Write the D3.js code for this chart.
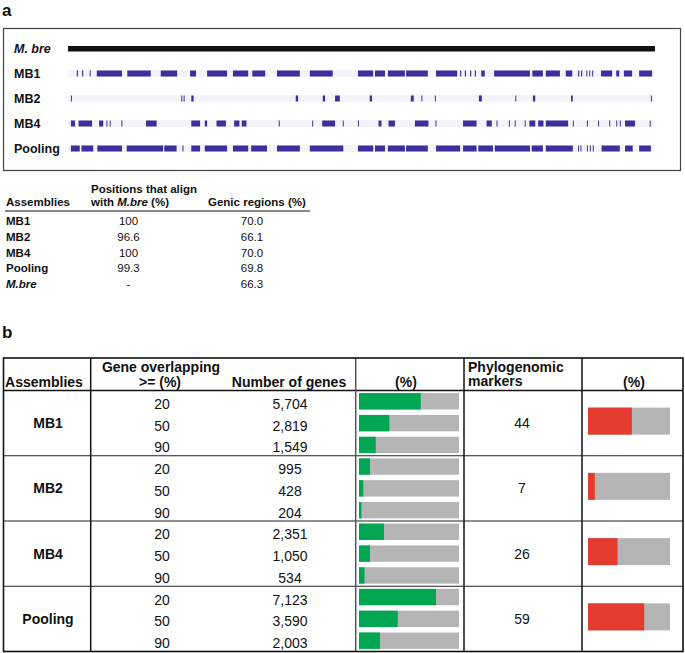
<!DOCTYPE html>
<html>
<head>
<meta charset="utf-8">
<script src="https://cdn.jsdelivr.net/npm/d3@7"></script>
<style>
  body { margin: 0; background: #fff; }
  text { font-family: "Liberation Sans", Arial, sans-serif; fill: #111; }
</style>
</head>
<body>
<div id="chart"></div>
<script>
// panel a: alignment of the assemblies on M. bre (positions in % of genome)
const trackNames = ["M. bre", "MB1", "MB2", "MB4", "Pooling"];
const mb1Segments = [[1.5,1.7],[2.4,2.6],[3.7,3.85],[4.9,9.2],[10.1,14.1],[15.8,18.6],[20.8,21.8],[23.7,27.1],[28.1,30.7],[31.4,33.6],[35.6,39.5],[41.2,45.1],[49.4,52.0],[52.3,54.0],[54.5,57.4],[57.6,61.3],[62.7,66.3],[66.8,67.0],[67.6,67.8],[68.5,68.7],[69.3,69.5],[70.4,71.0],[72.6,78.7],[79.1,80.9],[81.4,83.8],[84.8,85.9],[86.9,87.1],[87.4,87.6],[88.3,88.45],[88.8,88.95],[89.3,89.45],[90.8,92.7],[93.4,93.9],[94.7,96.1],[97.3,99.5]];
const mb2Segments = [[0.5,0.65],[19.3,19.45],[19.7,19.85],[21.0,21.4],[38.8,39.2],[43.4,43.8],[45.5,46.3],[51.4,51.8],[58.4,58.9],[60.2,60.35],[62.5,62.65],[70.0,70.5],[76.2,76.35],[79.2,79.6],[85.7,86.0],[99.3,99.45]];
const mb4Segments = [[0.5,1.2],[1.8,4.1],[5.3,6.0],[6.55,6.7],[7.1,7.25],[9.1,9.25],[13.3,15.1],[21.0,22.5],[23.3,23.7],[25.3,26.9],[28.3,29.2],[29.6,30.4],[35.9,36.05],[41.6,41.75],[43.3,45.5],[46.8,46.95],[49.4,49.55],[52.9,53.4],[54.6,55.7],[59.1,61.4],[62.6,62.75],[67.3,69.6],[71.3,72.2],[73.0,73.15],[75.1,75.25],[76.1,76.25],[77.8,77.95],[78.6,79.6],[80.1,81.0],[81.4,85.2],[86.0,86.15],[88.4,88.55],[90.3,90.45],[92.2,92.35],[93.4,93.55],[94.0,94.15],[94.9,96.6],[99.1,99.25]];
const poolingSegments = [[0.5,2.0],[2.3,4.3],[5.0,9.2],[10.0,16.2],[16.4,18.5],[19.5,19.65],[21.0,22.5],[23.3,27.1],[28.1,30.7],[31.2,33.9],[35.6,39.5],[41.2,46.9],[49.4,52.0],[52.3,54.0],[54.5,57.4],[57.6,61.3],[62.7,66.8],[67.3,69.6],[69.9,72.4],[72.7,78.7],[79.0,80.9],[81.4,86.0],[86.9,87.05],[87.3,87.45],[88.4,88.55],[88.9,89.05],[89.4,89.55],[90.9,94.0],[94.9,96.2],[97.3,99.3]];

// table under panel a
const tableAHeaders = ["Assemblies", "Positions that align", "with M.bre (%)", "Genic regions (%)"];
const tableANames = ["MB1", "MB2", "MB4", "Pooling", "M.bre"];
const alignPct = ["100", "96.6", "100", "99.3", "-"];
const genicPct = ["70.0", "66.1", "70.0", "69.8", "66.3"];

// panel b
const assembliesB = ["MB1", "MB2", "MB4", "Pooling"];
const overlapThresholds = [20, 50, 90];
const geneCounts = [[5704, 2819, 1549], [995, 428, 204], [2351, 1050, 534], [7123, 3590, 2003]];
const genePct = [[61.7, 30.3, 16.7], [11, 4.3, 2.4], [25, 11, 5.5], [77, 38.7, 21]];
const markerCounts = [44, 7, 26, 59];
const markerPct = [53.5, 8.3, 36, 68.5];

const W = 685, H = 653;
const segColor = "#3b2f9e", green = "#00a651", red = "#e33b2e", grey = "#b5b5b5";

const svg = d3.select("#chart").append("svg")
    .attr("width", W)
    .attr("height", H);

svg.append("rect").attr("width", W).attr("height", H).attr("fill", "#fff");

// ---------- panel a ----------
svg.append("text")
    .attr("x", 2).attr("y", 16)
    .attr("font-weight", "bold").style("font-size", "17px")
    .text("a");

svg.append("rect")
    .attr("x", 3.5).attr("y", 28.5)
    .attr("width", 677).attr("height", 142)
    .attr("fill", "none").attr("stroke", "#444").attr("stroke-width", 1.2);

let x = d3.scaleLinear().domain([0, 100]).range([68, 655]);
let yTrack = d3.scaleBand().domain(trackNames).range([36, 161]);

// track labels
svg.selectAll(".trackLabel")
    .data(trackNames)
    .enter().append("text")
    .attr("class", "trackLabel")
    .attr("x", 14)
    .attr("y", d => yTrack(d) + yTrack.bandwidth() / 2 + 4.5)
    .attr("font-weight", "bold")
    .style("font-size", "12.5px")
    .style("font-style", (d, i) => i === 0 ? "italic" : "normal")
    .text(d => d);

// reference genome bar
svg.append("rect")
    .attr("x", x(0))
    .attr("y", yTrack("M. bre") + yTrack.bandwidth() / 2 - 2.5)
    .attr("width", x(100) - x(0))
    .attr("height", 5.5)
    .attr("fill", "#111");

let tracks = [
    { name: "MB1", segs: mb1Segments },
    { name: "MB2", segs: mb2Segments },
    { name: "MB4", segs: mb4Segments },
    { name: "Pooling", segs: poolingSegments }
];

tracks.forEach(function(t) {
    let cy = yTrack(t.name) + yTrack.bandwidth() / 2;
    svg.append("rect")
        .attr("x", x(0)).attr("y", cy - 3.5)
        .attr("width", x(100) - x(0)).attr("height", 7)
        .attr("fill", "#f5f3f9");
    svg.selectAll(".seg-" + t.name)
        .data(t.segs)
        .enter().append("rect")
        .attr("class", "seg-" + t.name)
        .attr("x", d => x(d[0]))
        .attr("y", cy - 3)
        .attr("width", d => Math.max(1, x(d[1]) - x(d[0])))
        .attr("height", 6)
        .attr("fill", segColor);
});

// ---------- table a ----------
let colA = [6, 128.5, 252];
let rowA = d3.scalePoint().domain(tableANames).range([225, 288]);

svg.append("text").attr("x", 6).attr("y", 206)
    .attr("font-weight", "bold").style("font-size", "11.5px").text(tableAHeaders[0]);
svg.append("text").attr("x", 91).attr("y", 193)
    .attr("font-weight", "bold").style("font-size", "11.5px").text(tableAHeaders[1]);
let h2 = svg.append("text").attr("x", 91).attr("y", 206)
    .attr("font-weight", "bold").style("font-size", "11.5px");
h2.append("tspan").text("with ");
h2.append("tspan").style("font-style", "italic").text("M.bre");
h2.append("tspan").text(" (%)");
svg.append("text").attr("x", 208).attr("y", 206)
    .attr("font-weight", "bold").style("font-size", "11.5px").text(tableAHeaders[3]);

svg.append("line")
    .attr("x1", 5).attr("x2", 310)
    .attr("y1", 211).attr("y2", 211)
    .attr("stroke", "#111").attr("stroke-width", 1);

let rowsA = svg.selectAll(".rowA")
    .data(tableANames)
    .enter().append("g")
    .attr("class", "rowA")
    .attr("transform", d => "translate(0," + rowA(d) + ")");

rowsA.append("text")
    .attr("x", colA[0])
    .attr("font-weight", "bold")
    .style("font-size", "11.5px")
    .style("font-style", d => d === "M.bre" ? "italic" : "normal")
    .text(d => d);
rowsA.append("text")
    .attr("x", colA[1]).attr("text-anchor", "middle")
    .style("font-size", "11.5px")
    .text((d, i) => alignPct[i]);
rowsA.append("text")
    .attr("x", colA[2]).attr("text-anchor", "middle")
    .style("font-size", "11.5px")
    .text((d, i) => genicPct[i]);

// ---------- panel b ----------
svg.append("text")
    .attr("x", 2).attr("y", 338)
    .attr("font-weight", "bold").style("font-size", "17px")
    .text("b");

let tTop = 358, headBottom = 390.5, tBottom = 651.5, tLeft = 3.5, tRight = 683;
let colLines = [90.7, 355.7, 464, 582];

let yGroup = d3.scaleBand().domain(assembliesB).range([headBottom, tBottom]);
let yRow = d3.scaleBand().domain(overlapThresholds).range([0, yGroup.bandwidth()])
    .paddingInner(0.25).paddingOuter(0.12);
let xGreen = d3.scaleLinear().domain([0, 100]).range([359, 459]);
let xRed = d3.scaleLinear().domain([0, 100]).range([588, 670]);
let fmt = d3.format(",");

// headers
let hb = [
    { t: "Assemblies", x: 44, y: 386.5, a: "middle" },
    { t: "Gene overlapping", x: 161, y: 371.5, a: "middle" },
    { t: ">= (%)", x: 160, y: 386.5, a: "middle" },
    { t: "Number of genes", x: 289, y: 386.5, a: "middle" },
    { t: "(%)", x: 406, y: 386.5, a: "middle" },
    { t: "Phylogenomic", x: 468, y: 371.5, a: "start" },
    { t: "markers", x: 468, y: 386, a: "start" },
    { t: "(%)", x: 634, y: 386.5, a: "middle" }
];
svg.selectAll(".headB")
    .data(hb)
    .enter().append("text")
    .attr("class", "headB")
    .attr("x", d => d.x).attr("y", d => d.y)
    .attr("text-anchor", d => d.a)
    .attr("font-weight", "bold")
    .style("font-size", "14px")
    .text(d => d.t);

let groups = svg.selectAll(".groupB")
    .data(assembliesB)
    .enter().append("g")
    .attr("class", "groupB")
    .attr("transform", d => "translate(0," + yGroup(d) + ")");

let gh = yGroup.bandwidth();

groups.append("text")
    .attr("x", 48).attr("y", gh / 2 + 5)
    .attr("text-anchor", "middle")
    .attr("font-weight", "bold")
    .style("font-size", "14px")
    .text(d => d);

groups.append("text")
    .attr("x", 522).attr("y", gh / 2 + 5)
    .attr("text-anchor", "middle")
    .style("font-size", "14px")
    .text((d, i) => markerCounts[i]);

// marker bars
groups.append("rect")
    .attr("x", xRed(0)).attr("y", gh / 2 - 15.5)
    .attr("width", xRed(100) - xRed(0)).attr("height", 27)
    .attr("fill", grey);
groups.append("rect")
    .attr("x", xRed(0)).attr("y", gh / 2 - 15.5)
    .attr("width", (d, i) => xRed(markerPct[i]) - xRed(0)).attr("height", 27)
    .attr("fill", red);

groups.each(function(d, gi) {
    let g = d3.select(this);
    let rows = g.selectAll(".rowB")
        .data(overlapThresholds)
        .enter().append("g")
        .attr("class", "rowB")
        .attr("transform", t => "translate(0," + yRow(t) + ")");
    rows.append("text")
        .attr("x", 162).attr("y", yRow.bandwidth() / 2 + 7.5)
        .attr("text-anchor", "middle")
        .style("font-size", "14px")
        .text(t => t);
    rows.append("text")
        .attr("x", 290).attr("y", yRow.bandwidth() / 2 + 7.5)
        .attr("text-anchor", "middle")
        .style("font-size", "14px")
        .text((t, i) => fmt(geneCounts[gi][i]));
    rows.append("rect")
        .attr("x", xGreen(0)).attr("y", 0)
        .attr("width", xGreen(100) - xGreen(0)).attr("height", yRow.bandwidth())
        .attr("fill", grey);
    rows.append("rect")
        .attr("x", xGreen(0)).attr("y", 0)
        .attr("width", (t, i) => xGreen(genePct[gi][i]) - xGreen(0)).attr("height", yRow.bandwidth())
        .attr("fill", green);
});

// table grid
svg.selectAll(".hline")
    .data(assembliesB.slice(1))
    .enter().append("line")
    .attr("class", "hline")
    .attr("x1", tLeft).attr("x2", tRight)
    .attr("y1", d => yGroup(d)).attr("y2", d => yGroup(d))
    .attr("stroke", "#222").attr("stroke-width", 1.2);

svg.append("line")
    .attr("x1", tLeft).attr("x2", tRight)
    .attr("y1", headBottom).attr("y2", headBottom)
    .attr("stroke", "#111").attr("stroke-width", 1.5);

svg.selectAll(".vline")
    .data(colLines)
    .enter().append("line")
    .attr("class", "vline")
    .attr("x1", d => d).attr("x2", d => d)
    .attr("y1", tTop).attr("y2", tBottom)
    .attr("stroke", (d, i) => i === 1 ? "#555" : "#111")
    .attr("stroke-width", 1.5);

svg.append("rect")
    .attr("x", tLeft).attr("y", tTop)
    .attr("width", tRight - tLeft).attr("height", tBottom - tTop)
    .attr("fill", "none").attr("stroke", "#111").attr("stroke-width", 1.6);
</script>
</body>
</html>
